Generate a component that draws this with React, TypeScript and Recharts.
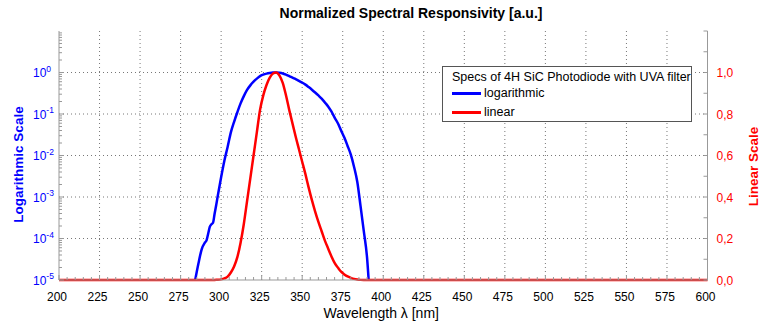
import { LineChart, Line, XAxis, YAxis, CartesianGrid, Legend, Label } from "recharts";

const FONT = '"Liberation Sans", Arial, sans-serif';
const BLUE = "#0000ff";
const RED = "#ff0000";
const AXIS = "#999999";

// wavelength [nm] and normalized responsivity
const wavelengths = [
  200, 282, 284, 286, 288, 290, 291, 292, 293, 294, 295, 296, 297, 298,
  300, 302, 304, 306, 308, 310, 312, 314, 316, 318, 320, 322, 324, 326, 328,
  330, 332, 334, 336, 338, 340, 342, 344, 346, 348, 350, 352, 354, 356, 358,
  360, 362, 364, 366, 368, 370, 372, 374, 376, 378, 380, 382, 384, 386, 388,
  390, 391, 392, 600,
];
const responsivity = [
  0, 0, 1e-5, 2.5e-5, 5.5e-5, 8e-5, 9e-5, 1.3e-4, 1.9e-4, 2.2e-4, 2.4e-4, 4e-4, 6.5e-4, 1.1e-3,
  3e-3, 7.5e-3, 0.016, 0.036, 0.065, 0.11, 0.18, 0.27, 0.38, 0.49, 0.6, 0.71, 0.82, 0.89, 0.94,
  0.975, 0.995, 1.0, 0.985, 0.95, 0.89, 0.82, 0.755, 0.69, 0.63, 0.57, 0.51, 0.445, 0.385, 0.33,
  0.28, 0.235, 0.19, 0.152, 0.115, 0.082, 0.06, 0.04, 0.027, 0.017, 0.0105, 0.0053, 0.0023, 6e-4, 1.5e-4,
  3.5e-5, 1e-5, 0, 0,
];

const xMajor = [200, 225, 250, 275, 300, 325, 350, 375, 400, 425, 450, 475, 500, 525, 550, 575, 600];
const xMinor = [
  200, 205, 210, 215, 220, 225, 230, 235, 240, 245, 250, 255, 260, 265, 270, 275, 280, 285, 290, 295,
  300, 305, 310, 315, 320, 325, 330, 335, 340, 345, 350, 355, 360, 365, 370, 375, 380, 385, 390, 395,
  400, 405, 410, 415, 420, 425, 430, 435, 440, 445, 450, 455, 460, 465, 470, 475, 480, 485, 490, 495,
  500, 505, 510, 515, 520, 525, 530, 535, 540, 545, 550, 555, 560, 565, 570, 575, 580, 585, 590, 595, 600,
];
const decades = [1e-5, 1e-4, 1e-3, 1e-2, 1e-1, 1];
const decadeExponents = ["-5", "-4", "-3", "-2", "-1", "0"];
const logTicks = decades.flatMap((d) => [1, 2, 3, 4, 5, 6, 7, 8, 9].map((m) => d * m));
const linTicks = [0, 0.1, 0.2, 0.3, 0.4, 0.5, 0.6, 0.7, 0.8, 0.9, 1.0, 1.1, 1.2];
const linLabels = ["0,0", "", "0,2", "", "0,4", "", "0,6", "", "0,8", "", "1,0", "", ""];

const rows = wavelengths.map((wl, i) => ({
  wl,
  lin: responsivity[i],
  log: responsivity[i] >= 1e-5 ? responsivity[i] : null,
}));

function BottomTick({ x, y, payload }: any) {
  const major = xMajor.includes(payload.value);
  return (
    <g>
      <line x1={x} y1={y} x2={x} y2={y - (major ? 5 : 3)} stroke={AXIS} />
      {major && (
        <text x={x - 2} y={y + 21} textAnchor="middle" fontSize={12} fontFamily={FONT} fill="#000">
          {payload.value}
        </text>
      )}
    </g>
  );
}

function TopTick({ x, y, payload }: any) {
  const major = xMajor.includes(payload.value);
  return <line x1={x} y1={y} x2={x} y2={y + (major ? 5 : 3)} stroke={AXIS} />;
}

function LogTick({ x, y, payload }: any) {
  const di = decades.indexOf(payload.value);
  const major = di >= 0;
  return (
    <g>
      <line x1={x} y1={y} x2={x + (major ? 5 : 3)} y2={y} stroke={AXIS} />
      {major && (
        <text x={x - 26} y={y + 4.5} fontSize={12} fontFamily={FONT} fill={BLUE}>
          10
          <tspan dy={-5.5} fontSize={8.5}>
            {decadeExponents[di]}
          </tspan>
        </text>
      )}
    </g>
  );
}

function LinTick({ x, y, index }: any) {
  const label = linLabels[index];
  return (
    <g>
      <line x1={x} y1={y} x2={x - 4} y2={y} stroke={AXIS} />
      {label && (
        <text x={x + 9} y={y + 4.5} fontSize={12} fontFamily={FONT} fill={RED}>
          {label}
        </text>
      )}
    </g>
  );
}

function XTitle({ viewBox }: any) {
  return (
    <text x={viewBox.x + viewBox.width / 2 - 2} y={viewBox.y + 38} textAnchor="middle" fontSize={14} fontFamily={FONT} fill="#000">
      Wavelength λ [nm]
    </text>
  );
}

function LogTitle({ viewBox }: any) {
  const cx = viewBox.x + 18;
  const cy = viewBox.y + viewBox.height / 2 + 9;
  return (
    <text x={cx} y={cy} transform={`rotate(-90 ${cx} ${cy})`} textAnchor="middle" dominantBaseline="central" fontSize={13.5} fontWeight="bold" fontFamily={FONT} fill={BLUE}>
      Logarithmic Scale
    </text>
  );
}

function LinTitle({ viewBox }: any) {
  const cx = viewBox.x + 45.5;
  const cy = viewBox.y + viewBox.height / 2 + 11;
  return (
    <text x={cx} y={cy} transform={`rotate(-90 ${cx} ${cy})`} textAnchor="middle" dominantBaseline="central" fontSize={13.5} fontWeight="bold" fontFamily={FONT} fill={RED}>
      Linear Scale
    </text>
  );
}

function LegendBox() {
  return (
    <div
      style={{
        position: "relative",
        width: 250,
        height: 56,
        boxSizing: "border-box",
        border: "1px solid #555",
        background: "#fff",
        fontFamily: FONT,
        fontSize: 12.5,
        color: "#000",
        lineHeight: "14px",
      }}
    >
      <div style={{ position: "absolute", left: 9, top: 3, whiteSpace: "nowrap" }}>
        Specs of 4H SiC Photodiode with UVA filter
      </div>
      <div style={{ position: "absolute", left: 9, top: 25, width: 29, height: 3, background: BLUE }} />
      <div style={{ position: "absolute", left: 41, top: 19 }}>logarithmic</div>
      <div style={{ position: "absolute", left: 9, top: 44, width: 29, height: 3, background: RED }} />
      <div style={{ position: "absolute", left: 41, top: 38 }}>linear</div>
    </div>
  );
}

export default function App() {
  return (
    <div style={{ position: "absolute", left: 0, top: 0, width: 761, height: 324, background: "#fff" }}>
      <div
        style={{
          position: "absolute",
          left: 411,
          top: 5,
          transform: "translateX(-50%)",
          whiteSpace: "nowrap",
          fontFamily: FONT,
          fontSize: 14,
          fontWeight: "bold",
          color: "#000",
        }}
      >
        Normalized Spectral Responsivity [a.u.]
      </div>
      <LineChart width={761} height={324} data={rows} margin={{ top: 31, right: 0, bottom: 0, left: 0 }}>
        <CartesianGrid
          xAxisId={0}
          yAxisId="log"
          stroke="#777"
          strokeDasharray="1 3"
          verticalValues={xMajor.slice(1, -1)}
          horizontalValues={decades.slice(1)}
        />
        <XAxis
          xAxisId={0}
          dataKey="wl"
          type="number"
          domain={[200, 600]}
          ticks={xMinor}
          interval={0}
          height={44}
          tickSize={0}
          tickMargin={0}
          tick={<BottomTick />}
          stroke={AXIS}
        >
          <Label content={<XTitle />} />
        </XAxis>
        <XAxis
          xAxisId="top"
          orientation="top"
          dataKey="wl"
          type="number"
          domain={[200, 600]}
          ticks={xMinor}
          interval={0}
          height={0}
          tickSize={0}
          tickMargin={0}
          tick={<TopTick />}
          stroke={AXIS}
        />
        <YAxis
          yAxisId="log"
          scale="log"
          type="number"
          domain={[1e-5, 10]}
          ticks={logTicks}
          interval={0}
          width={59}
          tickSize={0}
          tickMargin={0}
          tick={<LogTick />}
          stroke={AXIS}
        >
          <Label content={<LogTitle />} />
        </YAxis>
        <YAxis
          yAxisId="lin"
          orientation="right"
          type="number"
          domain={[0, 1.2]}
          ticks={linTicks}
          interval={0}
          width={53.5}
          tickSize={0}
          tickMargin={0}
          tick={<LinTick />}
          stroke={AXIS}
        >
          <Label content={<LinTitle />} />
        </YAxis>
        <Legend
          layout="horizontal"
          verticalAlign="middle"
          align="center"
          content={<LegendBox />}
          wrapperStyle={{ left: 442, top: 66, width: 250, height: 56 }}
        />
        <Line
          yAxisId="log"
          dataKey="log"
          type="monotone"
          stroke={BLUE}
          strokeWidth={2.5}
          dot={false}
          activeDot={false}
          isAnimationActive={false}
        />
        <Line
          yAxisId="lin"
          dataKey="lin"
          type="monotone"
          stroke={RED}
          strokeWidth={2.5}
          dot={false}
          activeDot={false}
          isAnimationActive={false}
        />
      </LineChart>
    </div>
  );
}
